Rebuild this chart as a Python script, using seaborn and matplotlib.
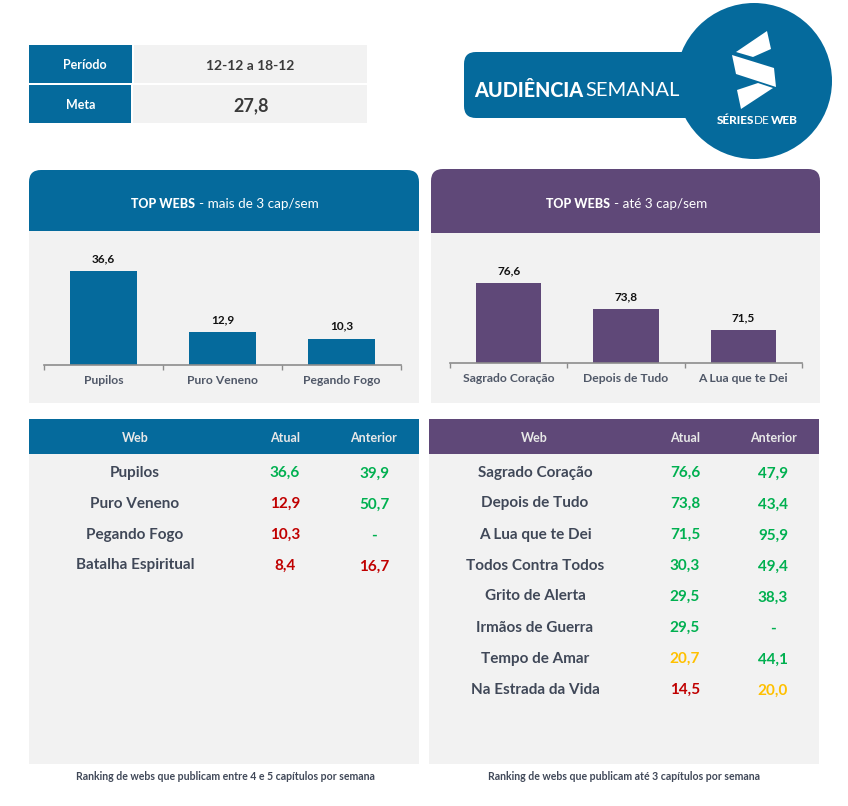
import matplotlib
matplotlib.use("Agg")
import matplotlib.pyplot as plt
import seaborn as sns
import pandas as pd
from matplotlib.patches import Circle, FancyBboxPatch, Polygon, Rectangle

BLUE = "#056A9C"
PURPLE = "#5F4878"
PANEL = "#F2F2F2"
GREEN = "#00B050"
AMBER = "#FFC000"
RED = "#C00000"
NAME = "#404858"

periodo = "12-12 a 18-12"
meta = 27.8

top_left_names = ["Pupilos", "Puro Veneno", "Pegando Fogo"]
top_left_values = [36.6, 12.9, 10.3]
top_right_names = ["Sagrado Coração", "Depois de Tudo", "A Lua que te Dei"]
top_right_values = [76.6, 73.8, 71.5]

left_names = ["Pupilos", "Puro Veneno", "Pegando Fogo", "Batalha Espiritual"]
left_atual = [36.6, 12.9, 10.3, 8.4]
left_anterior = [39.9, 50.7, None, 16.7]

right_names = ["Sagrado Coração", "Depois de Tudo", "A Lua que te Dei", "Todos Contra Todos",
               "Grito de Alerta", "Irmãos de Guerra", "Tempo de Amar", "Na Estrada da Vida"]
right_atual = [76.6, 73.8, 71.5, 30.3, 29.5, 29.5, 20.7, 14.5]
right_anterior = [47.9, 43.4, 95.9, 49.4, 38.3, None, 44.1, 20.0]

W, H = 848, 806


def fmt(v):
    return "-" if v is None else f"{v:.1f}".replace(".", ",")


def value_color(v):
    if v is None or v >= meta:
        return GREEN
    return AMBER if v >= 20 else RED


def box(ax, x0, y0, x1, y1, color):
    ax.add_patch(Rectangle((x0, y0), x1 - x0, y1 - y0, fc=color, ec="none"))


def rounded_header(ax, x0, y0, x1, y1, color):
    # rounded on top only, the lower half gets covered with a plain rectangle
    ax.add_patch(FancyBboxPatch((x0 + 12, y0 + 12), x1 - x0 - 24, y1 - y0 - 24,
                                boxstyle="round,pad=12,rounding_size=12", fc=color, ec="none"))
    box(ax, x0, y0 + 25, x1, y1, color)


def bar_chart(left, baseline, right, top, names, values, ymin, ymax, color):
    rect = [left / W, 1 - baseline / H, (right - left) / W, (baseline - top) / H]
    ax = fig.add_axes(rect, facecolor="none")
    df = pd.DataFrame({"web": names, "valor": values})
    sns.barplot(data=df, x="web", y="valor", color=color, saturation=1, width=0.555, linewidth=0, ax=ax)
    ax.set_xlim(-0.5, 2.5)
    ax.set_ylim(ymin, ymax)
    ax.set_xlabel("")
    ax.set_ylabel("")
    ax.set_yticks([])
    ax.bar_label(ax.containers[0], labels=[fmt(v) for v in values], padding=5,
                 fontsize=8.5, fontweight="bold", color="#111111")
    for s in ["top", "left", "right"]:
        ax.spines[s].set_visible(False)
    ax.spines["bottom"].set_color("#8C8C8C")
    ax.spines["bottom"].set_linewidth(1.2)
    ax.set_xticks([-0.5, 0.5, 1.5, 2.5], minor=True)
    ax.tick_params(axis="x", which="minor", bottom=True, length=3.5, width=1, color="#8C8C8C")
    ax.tick_params(axis="x", which="major", bottom=False, length=0, pad=7.3, labelsize=8.7, labelcolor="#505868")
    for t in ax.get_xticklabels():
        t.set_fontweight("bold")


def ranking(ax, name_x, atual_x, anterior_x, names, atual, anterior):
    for i, name in enumerate(names):
        y = 472.5 + 31 * i
        ax.text(name_x, y, name, ha="center", va="center", fontsize=11, fontweight="bold", color=NAME)
        ax.text(atual_x, y, fmt(atual[i]), ha="center", va="center", fontsize=11,
                fontweight="bold", color=value_color(atual[i]))
        ax.text(anterior_x, y + 1, fmt(anterior[i]), ha="center", va="center", fontsize=11,
                fontweight="bold", color=value_color(anterior[i]))


sns.set_theme(style="white")
plt.rcParams["font.family"] = ["Lato", "DejaVu Sans"]

fig = plt.figure(figsize=(W / 100, H / 100), dpi=100, facecolor="white")
bg = fig.add_axes([0, 0, 1, 1])
bg.set_xlim(0, W)
bg.set_ylim(H, 0)
bg.axis("off")

# top left info table
box(bg, 29, 45, 132, 83, BLUE)
box(bg, 134, 45, 367, 83, PANEL)
box(bg, 29, 85, 131, 123, BLUE)
box(bg, 133, 85, 367, 123, PANEL)
bg.text(85, 65, "Período", ha="center", va="center", color="white", fontsize=9, fontweight="bold")
bg.text(81, 105, "Meta", ha="center", va="center", color="white", fontsize=9, fontweight="bold")
bg.text(250, 66, periodo, ha="center", va="center", color="#3A3A3A", fontsize=10, fontweight="bold")
bg.text(251, 106, fmt(meta), ha="center", va="center", color="#3A3A3A", fontsize=13, fontweight="bold")

# logo
bg.add_patch(FancyBboxPatch((476, 64), 220, 42, boxstyle="round,pad=12,rounding_size=12", fc=BLUE, ec="none"))
bg.add_patch(Circle((754, 81), 78, fc=BLUE, ec="none"))
for pts in [[(767, 31), (771, 49), (753, 57), (736, 52)],
            [(732, 55), (774, 68), (776, 87), (736, 74)],
            [(737, 90), (758, 83), (773, 88), (741, 109)]]:
    bg.add_patch(Polygon(pts, fc="white", ec="none"))
bg.text(474, 90.5, "AUDIÊNCIA", ha="left", va="center", color="white", fontsize=14.2, fontweight="black")
bg.text(585, 90.5, "SEMANAL", ha="left", va="center", color="white", fontsize=14.5)
bg.text(754, 120, "SÉRIES", ha="right", va="center", color="white", fontsize=8.5, fontweight="black")
bg.text(754, 120, "DE", ha="left", va="center", color="white", fontsize=8.5)
bg.text(771, 120, "WEB", ha="left", va="center", color="white", fontsize=8.5, fontweight="black")

# panels of the two charts
rounded_header(bg, 29, 170, 419, 231, BLUE)
rounded_header(bg, 431, 169, 820, 233, PURPLE)
box(bg, 29, 231, 419, 403, PANEL)
box(bg, 431, 233, 820, 403, PANEL)
bg.text(131, 204.5, "TOP WEBS", ha="left", va="center", color="white", fontsize=9, fontweight="black")
bg.text(199, 204.5, "- mais de 3 cap/sem", ha="left", va="center", color="white", fontsize=9.7)
bg.text(546, 203.5, "TOP WEBS", ha="left", va="center", color="white", fontsize=9, fontweight="black")
bg.text(614, 203.5, "- até 3 cap/sem", ha="left", va="center", color="white", fontsize=9.7)

# ranking tables
box(bg, 29, 419, 419, 454, BLUE)
box(bg, 429, 419, 819, 454, PURPLE)
box(bg, 29, 454, 419, 764, PANEL)
box(bg, 429, 454, 819, 764, PANEL)
for x, label in [(135, "Web"), (285, "Atual"), (374, "Anterior"), (534, "Web"), (685, "Atual"), (773, "Anterior")]:
    bg.text(x, 438, label, ha="center", va="center", color="#E8E8E8", fontsize=9, fontweight="bold")

ranking(bg, 135, 285, 374, left_names, left_atual, left_anterior)
ranking(bg, 535, 685, 773, right_names, right_atual, right_anterior)

bg.text(225, 777, "Ranking de webs que publicam entre 4 e 5 capítulos por semana",
        ha="center", va="center", color="#404858", fontsize=7.6, fontweight="bold")
bg.text(624, 777, "Ranking de webs que publicam até 3 capítulos por semana",
        ha="center", va="center", color="#404858", fontsize=7.6, fontweight="bold")

bar_chart(44, 365, 401, 250, top_left_names, top_left_values, 0, 44.7, BLUE)
bar_chart(450, 363, 802, 250, top_right_names, top_right_values, 67.9, 80.2, PURPLE)

fig.savefig("out.png", dpi=100)
